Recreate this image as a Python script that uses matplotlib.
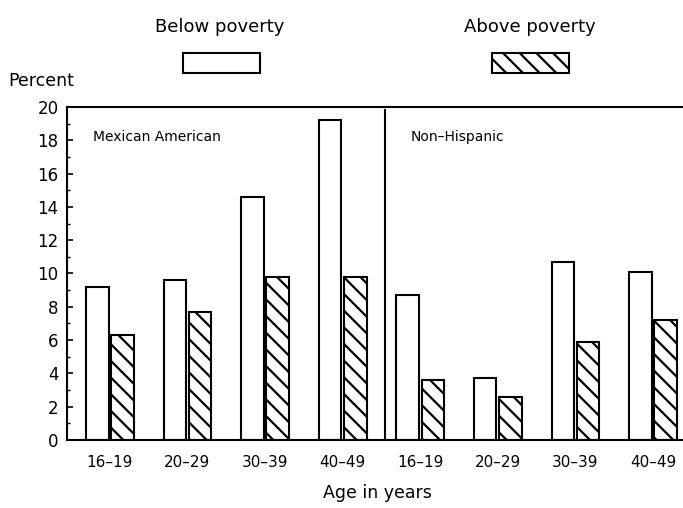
import numpy as np
import matplotlib.pyplot as plt
from matplotlib.patches import Rectangle
from matplotlib.ticker import MultipleLocator

# data (percent)
age_groups = ['16–19', '20–29', '30–39', '40–49']
panels = ['Mexican American', 'Non–Hispanic']
below_poverty = [9.2, 9.6, 14.6, 19.2, 8.7, 3.7, 10.7, 10.1]
above_poverty = [6.3, 7.7, 9.8, 9.8, 3.6, 2.6, 5.9, 7.2]
y_ticks = [0, 2, 4, 6, 8, 10, 12, 14, 16, 18, 20]

plt.rcParams['hatch.linewidth'] = 1.6
plt.rcParams['font.family'] = 'DejaVu Sans'

fig = plt.figure(figsize=(6.83, 5.08), dpi=100)
ax = fig.add_axes([0.0981, 0.1339, 0.91, 0.6555])

x = np.arange(len(below_poverty))
width = 0.29
offset = 0.163
hatch = '\\\\'

ax.bar(x - offset, below_poverty, width, color='white', edgecolor='black', linewidth=1.5)
ax.bar(x + offset, above_poverty, width, color='white', edgecolor='black',
       linewidth=1.5, hatch=hatch)

# divider between the two panels
ax.axvline(3.54, ymin=0, ymax=0.99, color='black', linewidth=1.5)

ax.text(-0.22, 18.2, panels[0], fontsize=10, va='center', ha='left')
ax.text(3.88, 18.2, panels[1], fontsize=10, va='center', ha='left')

ax.set_xlim(-0.553, 7.458)
ax.set_ylim(0, 20)
ax.set_xticks(x)
ax.set_xticklabels(age_groups * 2, fontsize=11)
ax.set_yticks(y_ticks)
ax.set_yticklabels([str(v) for v in y_ticks], fontsize=12)
ax.yaxis.set_minor_locator(MultipleLocator(1))
ax.tick_params(axis='x', length=0, pad=11)
ax.tick_params(axis='y', which='major', direction='in', length=4, width=1.2, pad=6)
ax.tick_params(axis='y', which='minor', direction='in', length=2, width=1)

for side in ['left', 'bottom', 'top']:
    ax.spines[side].set_linewidth(1.5)
ax.spines['right'].set_visible(False)

# legend drawn above the plot: label on top, swatch below
fig.text(0.322, 0.947, 'Below poverty', fontsize=13, ha='center', va='center')
fig.text(0.776, 0.947, 'Above poverty', fontsize=13, ha='center', va='center')
fig.add_artist(Rectangle((0.268, 0.8563), 0.1127, 0.0394, transform=fig.transFigure,
                         facecolor='white', edgecolor='black', linewidth=1.5))
fig.add_artist(Rectangle((0.7204, 0.8563), 0.1127, 0.0394, transform=fig.transFigure,
                         facecolor='white', edgecolor='black', linewidth=1.5, hatch=hatch))

fig.text(0.0117, 0.8406, 'Percent', fontsize=12.5, ha='left', va='center')
fig.text(0.552, 0.0295, 'Age in years', fontsize=12.5, ha='center', va='center')

fig.savefig('out.png', dpi=100)
